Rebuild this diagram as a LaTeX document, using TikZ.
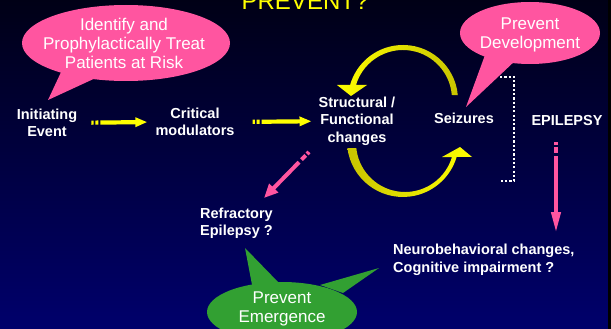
\documentclass[tikz,border=0pt]{standalone}
\usepackage{fontspec}
\setmainfont{Liberation Sans}
\usetikzlibrary{arrows.meta}
\definecolor{navytop}{RGB}{0,0,22}
\definecolor{navybot}{RGB}{0,0,108}
\definecolor{hotpink}{RGB}{255,85,160}
\definecolor{leaf}{RGB}{50,160,50}
\definecolor{lemon}{RGB}{255,255,0}
\definecolor{oliveyellow}{RGB}{200,196,0}
\begin{document}
\begin{tikzpicture}[x=1pt,y=-1pt,
  lbl/.style={text=white,font=\fontsize{14.5}{17.5}\selectfont\bfseries,inner sep=0pt},
  bubble/.style={text=white,font=\fontsize{17}{19}\selectfont,inner sep=0pt,align=center},
  yarrow/.style={draw=lemon,line width=4.2pt,
    dash pattern=on 2.3pt off 1.7pt on 3pt off 2pt on 400pt,
    -{Triangle[length=12pt,width=9pt]}},
  parrow/.style={draw=hotpink,line width=4pt,
    dash pattern=on 2.7pt off 2pt on 6pt off 3.5pt on 400pt}]

% backdrop
\shade[top color=navytop,bottom color=navybot] (0,0) rectangle (611,329);
\fill[black] (608,0) rectangle (611,329);
\useasboundingbox (0,0) rectangle (611,329);
\clip (0,0) rectangle (611,329);

% heading, only its lower part lies on the page
\node[text=lemon,font=\fontsize{24}{28}\selectfont,anchor=base,inner sep=0pt] (title) at (305,10) {PREVENT?};

% callout: identify
\fill[hotpink] (62,70) -- (48,100) -- (100,76) -- cycle;
\fill[hotpink] (126,43) ellipse[x radius=104,y radius=38];
\node[bubble] (identify) at (124,43) {Identify and\\Prophylactically Treat\\Patients at Risk};

% callout: development
\fill[hotpink] (485,55) -- (466,107) -- (516,60) -- cycle;
\fill[hotpink] (530,33) ellipse[x radius=70,y radius=31];
\node[bubble] (develop) at (530,35) {Prevent\\Development};

% callout: emergence
\fill[leaf] (253,290) -- (245,248) -- (280,284) -- cycle;
\fill[leaf] (320,285) -- (379,268) -- (343,293) -- cycle;
\fill[leaf] (282,312) ellipse[x radius=75,y radius=30];
\node[bubble] (emerge) at (282,308.7) {Prevent\\Emergence};

% stages
\node[lbl,align=center] (init) at (47,122.8) {Initiating\\Event};
\node[lbl,align=center] (crit) at (195,122) {Critical\\modulators};
\node[lbl,align=center] (struct) at (357,121.2) {Structural /\\Functional\\changes};
\node[lbl] (seiz) at (464,118.7) {Seizures};
\node[lbl] (epi) at (567,120.7) {EPILEPSY};
\node[lbl,align=left,anchor=west] (refr) at (200,223.2) {Refractory\\Epilepsy ?};
\node[lbl,align=left,anchor=west] (neuro) at (393,259.9) {Neurobehavioral changes,\\Cognitive impairment ?};

% forward arrows
\draw[yarrow,shorten <=14pt,shorten >=8pt] (init.east) -- (crit.west);
\draw[yarrow,shorten <=18pt,shorten >=7pt] (crit.east) -- (struct.west);

% cycle between changes and seizures
\shade[left color=lemon,right color=oliveyellow]
  (457.8,95.2) arc[start angle=-5,end angle=-164,radius=55]
  -- (337,85) -- (351,96) -- (367,85) -- (356.0,85.0)
  arc[start angle=-163.4,end angle=-4.7,radius=49] -- cycle;
\shade[left color=oliveyellow,right color=lemon]
  (347.4,148) arc[start angle=172.8,end angle=16.6,radius=56]
  -- (472,157) -- (460,147) -- (442,157) -- (452.0,157)
  arc[start angle=16.6,end angle=174.1,radius=49] -- cycle;

% bracket grouping the seizures
\draw[white,line width=2pt,dash pattern=on 2.2pt off 2.1pt]
  (500,77) -- (514,77) -- (514,181) -- (500,181);

% outcome arrows
\coordinate (refrfrom) at (309,152);
\coordinate (refrto) at (264,198);
\draw[parrow,-{Triangle[length=14pt,width=12pt]}] (refrfrom) -- (refrto);
\coordinate (epifrom) at (556,142);
\coordinate (epito) at (556,233);
\draw[parrow,-{Triangle[length=21pt,width=9pt]}] (epifrom) -- (epito);
\end{tikzpicture}
\end{document}
